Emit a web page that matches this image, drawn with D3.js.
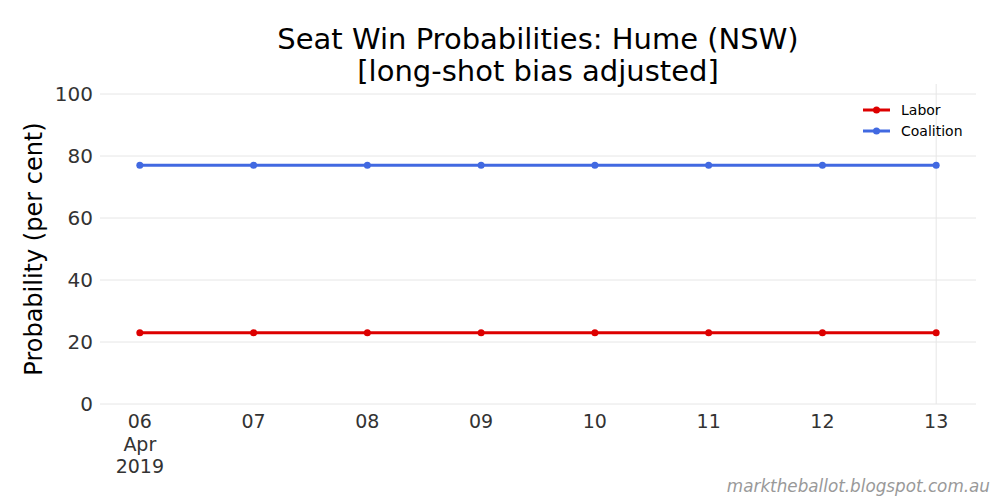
<!DOCTYPE html>
<html><head><meta charset="utf-8">
<script src="https://cdn.jsdelivr.net/npm/d3@7"></script>
<style>body{margin:0;background:#fff;} svg{display:block;font-family:"DejaVu Sans",sans-serif;}</style>
</head><body><svg id="c" width="1000" height="500"></svg>
<script>
const dates = ["2019-04-06","2019-04-07","2019-04-08","2019-04-09","2019-04-10","2019-04-11","2019-04-12","2019-04-13"];
const labor = [23,23,23,23,23,23,23,23];
const coalition = [77,77,77,77,77,77,77,77];
const seriesNames = ["Labor","Coalition"];
const seriesColors = ["#dd0000","#4169e1"];
const yTicks = [0,20,40,60,80,100];
const xTickLabels = [["06","Apr","2019"],["07"],["08"],["09"],["10"],["11"],["12"],["13"]];

const parse = d3.utcParse("%Y-%m-%d");
const xs = dates.map(parse);
const svg = d3.select("#c");
const L=100,R=976,T=94,B=404;
const pad = 0.35*86400000;
const x = d3.scaleUtc().domain([new Date(+xs[0]-pad), new Date(+xs[xs.length-1]+pad)]).range([L,R]);
const y = d3.scaleLinear().domain([0,100]).range([B,T]);

// grid
svg.append("g").selectAll("line").data(yTicks).join("line")
  .attr("x1",L).attr("x2",R).attr("y1",d=>y(d)).attr("y2",d=>y(d))
  .attr("stroke","#e6e6e6").attr("stroke-width",1);
svg.append("line").attr("x1",x(xs[7])).attr("x2",x(xs[7])).attr("y1",T-10).attr("y2",B)
  .attr("stroke","#e6e6e6").attr("stroke-width",1);

// y axis labels
svg.append("g").selectAll("text").data(yTicks).join("text")
  .attr("x",L-7).attr("y",d=>y(d)).attr("dy","0.36em").attr("text-anchor","end")
  .attr("font-size",20).attr("fill","#333").text(d=>d);

// x axis labels
const xl = svg.append("g");
xs.forEach((d,i)=>{
  const t = xl.append("text").attr("x",x(d)).attr("y",428).attr("text-anchor","middle")
    .attr("font-size",19).attr("fill","#333");
  xTickLabels[i].forEach((s,j)=>t.append("tspan").attr("x",x(d)).attr("dy",j===0?0:22.5).text(s));
});

// lines
const data = [labor, coalition];
const line = d3.line().x((d,i)=>x(xs[i])).y(d=>y(d));
data.forEach((s,k)=>{
  svg.append("path").datum(s).attr("d",line).attr("fill","none")
    .attr("stroke",seriesColors[k]).attr("stroke-width",3);
  svg.append("g").selectAll("circle").data(s).join("circle")
    .attr("cx",(d,i)=>x(xs[i])).attr("cy",d=>y(d)).attr("r",3.5).attr("fill",seriesColors[k]);
});

// legend
const lg = svg.append("g");
seriesNames.forEach((n,k)=>{
  const yy = 110 + k*21;
  lg.append("line").attr("x1",863).attr("x2",890).attr("y1",yy).attr("y2",yy)
    .attr("stroke",seriesColors[k]).attr("stroke-width",3);
  lg.append("circle").attr("cx",876.5).attr("cy",yy).attr("r",3.5).attr("fill",seriesColors[k]);
  lg.append("text").attr("x",901).attr("y",yy).attr("dy","0.35em").attr("font-size",14)
    .attr("fill","#000").text(n);
});

// title
svg.append("text").attr("x",538).attr("y",49).attr("text-anchor","middle").attr("font-size",29)
  .attr("fill","#000").text("Seat Win Probabilities: Hume (NSW)");
svg.append("text").attr("x",538).attr("y",81).attr("text-anchor","middle").attr("font-size",29)
  .attr("fill","#000").text("[long-shot bias adjusted]");

// y label
svg.append("text").attr("transform","translate(42,249) rotate(-90)").attr("text-anchor","middle")
  .attr("font-size",24).attr("fill","#000").text("Probability (per cent)");

// watermark
svg.append("text").attr("x",990).attr("y",492).attr("text-anchor","end").attr("font-size",16.8)
  .attr("font-style","italic").attr("fill","#999").text("marktheballot.blogspot.com.au");
</script></body></html>
